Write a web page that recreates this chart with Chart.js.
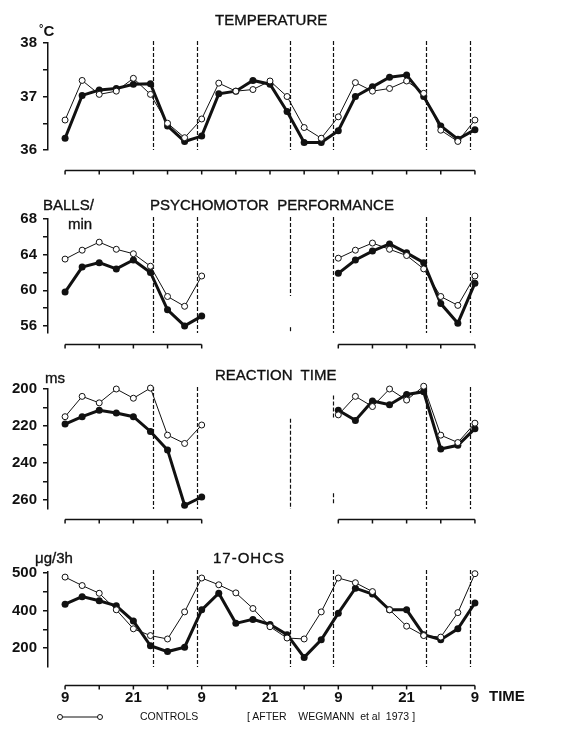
<!DOCTYPE html>
<html>
<head>
<meta charset="utf-8">
<script src="https://cdn.jsdelivr.net/npm/chart.js@4.4.1/dist/chart.umd.min.js"></script>
<style>
  body { margin: 0; background: #fff; width: 562px; height: 733px; position: relative; overflow: hidden;
         font-family: 'Liberation Sans', Arial, sans-serif; color: #111; }
  canvas { position: absolute; left: 0; }
  .txt { position: absolute; white-space: pre; line-height: 1; }
  .title { font-size: 15px; -webkit-text-stroke: 0.35px #111; }
  .unit { font-size: 15px; font-weight: bold; }
  .small { font-size: 10.5px; }
</style>
</head>
<body>
<canvas id="temp" width="562" height="180" style="top:0px"></canvas>
<canvas id="psy" width="562" height="180" style="top:180px"></canvas>
<canvas id="rt" width="562" height="180" style="top:360px"></canvas>
<canvas id="ohcs" width="562" height="193" style="top:540px"></canvas>

<div class="txt title" style="left:215px;top:12px">TEMPERATURE</div>
<div class="txt unit" style="left:39px;top:23px"><span style="font-size:11px;vertical-align:4px">°</span>C</div>

<div class="txt title" style="left:150px;top:197px">PSYCHOMOTOR  PERFORMANCE</div>
<div class="txt unit" style="left:43px;top:197px;font-weight:normal;-webkit-text-stroke:0.35px #111">BALLS/</div>
<div class="txt unit" style="left:68px;top:216px;font-weight:normal;-webkit-text-stroke:0.35px #111">min</div>

<div class="txt title" style="left:215px;top:367px">REACTION  TIME</div>
<div class="txt unit" style="left:45px;top:370px;font-weight:normal;-webkit-text-stroke:0.35px #111">ms</div>

<div class="txt title" style="left:213px;top:550px;letter-spacing:1px">17-OHCS</div>
<div class="txt unit" style="left:35px;top:550px;font-weight:normal;-webkit-text-stroke:0.35px #111">μg/3h</div>

<div class="txt unit" style="left:489px;top:688px">TIME</div>

<svg style="position:absolute;left:56px;top:712px" width="48" height="10">
  <line x1="4" y1="5" x2="44" y2="5" stroke="#111" stroke-width="1"/>
  <circle cx="4" cy="5" r="2.5" fill="#fff" stroke="#111" stroke-width="1"/>
  <circle cx="44" cy="5" r="2.5" fill="#fff" stroke="#111" stroke-width="1"/>
</svg>
<div class="txt small" style="left:140px;top:711px">CONTROLS</div>
<div class="txt small" style="left:247px;top:711px">[ AFTER    WEGMANN  et al  1973 ]</div>

<script>
// clock hours after 09:00 on day 1, one sample every 3 h
const hours = [0, 3, 6, 9, 12, 15, 18, 21, 24, 27, 30, 33, 36, 39, 42, 45, 48, 51, 54, 57, 60, 63, 66, 69, 72];
const axisHours = [0, 6, 12, 18, 24, 30, 36, 42, 48, 54, 60, 66, 72];
const labelHours = [0, 12, 24, 36, 48, 60, 72];
const timeLabels = ['9', '21', '9', '21', '9', '21', '9'];
const lightsHours = [15.4, 23.2, 39.6, 47.0, 63.4, 71.1];

const tempSubjects = [36.22, 37.02, 37.12, 37.15, 37.23, 37.24, 36.45, 36.16, 36.26, 37.05, 37.1, 37.3, 37.23, 36.72, 36.14, 36.14, 36.36, 37.0, 37.18, 37.36, 37.4, 37.0, 36.45, 36.2, 36.38];
const tempControls = [36.56, 37.3, 37.04, 37.1, 37.34, 37.04, 36.5, 36.23, 36.58, 37.25, 37.1, 37.13, 37.29, 37.0, 36.42, 36.22, 36.62, 37.26, 37.1, 37.15, 37.29, 37.06, 36.37, 36.16, 36.56];
const tempTicks = [36, 36.5, 37, 37.5, 38];
const tempLabels = ['36', '', '37', '', '38'];

const psySubjects = [59.8, 62.6, 63.1, 62.4, 63.4, 62.0, 57.8, 56.0, 57.1, null, null, null, null, null, null, null, 61.9, 63.4, 64.4, 65.2, 64.2, 63.1, 58.5, 56.3, 60.8];
const psyControls = [63.5, 64.5, 65.4, 64.6, 64.1, 62.7, 59.3, 58.2, 61.6, null, null, null, null, null, null, null, 63.6, 64.5, 65.3, 64.6, 63.9, 62.4, 59.3, 58.3, 61.6];
const psyTicks = [56, 58, 60, 62, 64, 66, 68];
const psyLabels = ['56', '', '60', '', '64', '', '68'];

const rtSubjects = [219, 215, 211.5, 213, 215, 223, 233, 263, 258.5, null, null, null, null, null, null, null, 211.5, 217, 206.5, 208.5, 203, 201.5, 232.5, 230.5, 221.5];
const rtControls = [215, 204, 207.5, 200, 205, 199.5, 225, 229.5, 219.5, null, null, null, null, null, null, null, 214, 204, 209.5, 200, 206, 198.5, 225, 229, 218.5];
const rtTicks = [200, 210, 220, 230, 240, 250, 260];
const rtLabels = ['200', '', '220', '', '240', '', '260'];

const ohcsSubjects = [434, 474, 452, 425, 344, 213, 182, 205, 404, 492, 332, 353, 326, 272, 151, 245, 386, 519, 488, 404, 404, 272, 245, 303, 440];
const ohcsControls = [578, 533, 492, 404, 303, 267, 249, 393, 573, 537, 494, 411, 314, 254, 249, 393, 573, 548, 501, 404, 317, 267, 259, 389, 596];
const ohcsTicks = [200, 300, 400, 500, 600];
const ohcsLabels = ['200', '', '400', '', '500'];

const ink = '#111';
const font = "'Liberation Sans', Arial, sans-serif";

// dashed light/dark lines, and the separate time axis under each panel
const panelFrame = {
  id: 'panelFrame',
  beforeDatasetsDraw(chart, args, o) {
    const { ctx, chartArea: a, scales: { x } } = chart;
    ctx.save();
    ctx.strokeStyle = ink;
    ctx.lineWidth = 1.2;
    ctx.setLineDash([4, 2]);
    const top = a.top - 2, full = a.bottom - top;
    lightsHours.forEach((h, i) => {
      const px = Math.round(x.getPixelForValue(h)) + 0.5;
      const pieces = (o.cuts && o.cuts[i]) || [[0, 1]];
      pieces.forEach(([f0, f1]) => {
        ctx.beginPath();
        ctx.moveTo(px, top + f0 * full);
        ctx.lineTo(px, top + f1 * full);
        ctx.stroke();
      });
    });
    ctx.restore();
  },
  afterDraw(chart, args, o) {
    const { ctx, chartArea: a, scales: { x } } = chart;
    const y0 = Math.round(a.bottom + o.gap) + 0.5;
    ctx.save();
    ctx.strokeStyle = ink;
    ctx.lineWidth = 1.5;
    o.segments.forEach(([s, e]) => {
      ctx.beginPath();
      ctx.moveTo(x.getPixelForValue(s), y0);
      ctx.lineTo(x.getPixelForValue(e), y0);
      ctx.stroke();
      axisHours.filter(h => h >= s && h <= e).forEach(h => {
        const px = x.getPixelForValue(h);
        ctx.beginPath();
        ctx.moveTo(px, y0);
        ctx.lineTo(px, y0 + 4);
        ctx.stroke();
      });
    });
    ctx.restore();
  }
};

const panels = [
  { id: 'temp', subjects: tempSubjects, controls: tempControls, ticks: tempTicks, labels: tempLabels,
    min: 36, max: 38, reverse: false, padTop: 43, padBottom: 30, gap: 20, segments: [[0, 72]] },
  { id: 'psy', subjects: psySubjects, controls: psyControls, ticks: psyTicks, labels: psyLabels,
    min: 55.2, max: 68, reverse: false, padTop: 39, padBottom: 27, gap: 11, segments: [[0, 24], [48, 72]],
    cuts: { 2: [[0, 0.68], [0.95, 1]] } },
  { id: 'rt', subjects: rtSubjects, controls: rtControls, ticks: rtTicks, labels: rtLabels,
    min: 200, max: 265, reverse: true, padTop: 29, padBottom: 31, gap: 10, segments: [[0, 24], [48, 72]],
    cuts: { 2: [[0.26, 1]], 3: [[0.07, 0.26], [0.87, 0.97]] } },
  { id: 'ohcs', subjects: ohcsSubjects, controls: ohcsControls, ticks: ohcsTicks, labels: ohcsLabels,
    min: 100, max: 605, reverse: false, padTop: 32, padBottom: 0, gap: 18, segments: [[0, 72]], timeAxis: 66 }
];

panels.forEach(p => {
  new Chart(document.getElementById(p.id), {
    type: 'line',
    data: {
      datasets: [
        { data: hours.map((h, i) => ({ x: h, y: p.controls[i] })), borderColor: ink, borderWidth: 1,
          pointRadius: 3, pointBackgroundColor: '#fff', pointBorderColor: ink, pointBorderWidth: 1,
          order: 0, clip: false },
        { data: hours.map((h, i) => ({ x: h, y: p.subjects[i] })), borderColor: ink, borderWidth: 3,
          pointRadius: 3.5, pointBackgroundColor: ink, pointBorderColor: ink, pointBorderWidth: 0,
          order: 1, clip: false }
      ]
    },
    options: {
      responsive: false,
      animation: false,
      devicePixelRatio: 1,
      layout: { padding: { left: 0, right: 70, top: p.padTop, bottom: p.padBottom } },
      elements: { line: { tension: 0 } },
      plugins: {
        legend: { display: false },
        tooltip: { enabled: false },
        panelFrame: { gap: p.gap, segments: p.segments, cuts: p.cuts }
      },
      scales: {
        x: {
          type: 'linear', min: -3, max: 75,
          display: !!p.timeAxis,
          grid: { display: false, drawTicks: false },
          border: { display: false },
          afterBuildTicks: s => { s.ticks = labelHours.map(v => ({ value: v })); },
          afterFit: s => { if (p.timeAxis) s.height = p.timeAxis; },
          ticks: { callback: (v, i) => timeLabels[i], color: ink, padding: 22, maxRotation: 0, autoSkip: false,
                   font: { family: font, size: 15, weight: 'bold' } }
        },
        y: {
          min: p.min, max: p.max, reverse: p.reverse,
          afterBuildTicks: s => { s.ticks = p.ticks.map(v => ({ value: v })); },
          afterFit: s => { s.width = 48; },
          grid: { display: true, drawOnChartArea: false, drawTicks: true, tickLength: 5, color: ink, lineWidth: 1.5 },
          border: { display: true, color: ink, width: 1.5 },
          ticks: { callback: (v, i) => p.labels[i], color: ink, padding: 6, autoSkip: false,
                   font: { family: font, size: 15, weight: 'bold' } }
        }
      }
    },
    plugins: [panelFrame]
  });
});
</script>
</body>
</html>
